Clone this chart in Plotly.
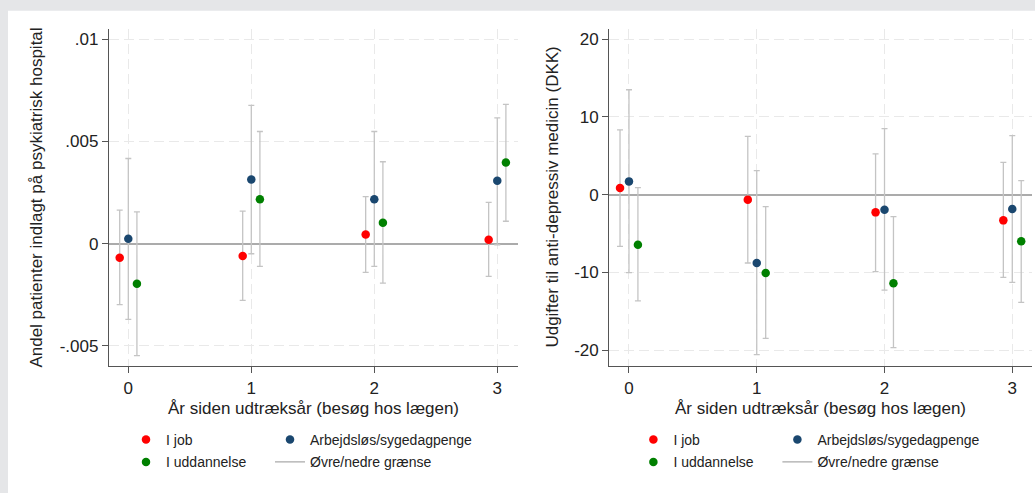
import plotly.graph_objects as go

# --- data -----------------------------------------------------------------
years = [0, 1, 2, 3]

# Andel patienter indlagt på psykiatrisk hospital
hosp_job_est = [-0.00068, -0.00060, 0.00045, 0.00020]
hosp_job_lo = [-0.00298, -0.00277, -0.00140, -0.00160]
hosp_job_hi = [0.00164, 0.00160, 0.00231, 0.00202]
hosp_unemp_est = [0.00024, 0.00314, 0.00218, 0.00308]
hosp_unemp_lo = [-0.00370, -0.00049, -0.00111, -0.00005]
hosp_unemp_hi = [0.00417, 0.00677, 0.00549, 0.00616]
hosp_educ_est = [-0.00196, 0.00218, 0.00103, 0.00397]
hosp_educ_lo = [-0.00547, -0.00111, -0.00193, 0.00110]
hosp_educ_hi = [0.00156, 0.00549, 0.00401, 0.00682]

# Udgifter til anti-depressiv medicin (DKK)
med_job_est = [0.86, -0.64, -2.28, -3.31]
med_job_lo = [-6.65, -8.80, -9.90, -10.64]
med_job_hi = [8.33, 7.50, 5.24, 4.16]
med_unemp_est = [1.71, -8.80, -1.93, -1.84]
med_unemp_lo = [-10.04, -20.60, -12.30, -11.29]
med_unemp_hi = [13.51, 3.09, 8.49, 7.59]
med_educ_est = [-6.44, -10.08, -11.40, -6.01]
med_educ_lo = [-13.68, -18.50, -19.70, -13.86]
med_educ_hi = [0.90, -1.54, -2.83, 1.80]

hosp_ticks = [-0.005, 0, 0.005, 0.01]
hosp_ticktext = ["-.005", "0", ".005", ".01"]
med_ticks = [-20, -10, 0, 10, 20]
med_ticktext = ["-20", "-10", "0", "10", "20"]

group_names = ["I job", "Arbejdsløs/sygedagpenge", "I uddannelse"]
ci_name = "Øvre/nedre grænse"
x_title = "År siden udtræksår (besøg hos lægen)"
y_title_left = "Andel patienter indlagt på psykiatrisk hospital"
y_title_right = "Udgifter til anti-depressiv medicin (DKK)"

# --- styling --------------------------------------------------------------
W, H = 1035, 493
FONT = "Liberation Sans, Arial, sans-serif"
TXT = "#222222"
COLORS = ["#ff0000", "#1a476f", "#008000"]
OFFSETS = [-0.07, 0.0, 0.07]
CI_COLOR = "#c4c4c4"
GRID = "#e9e9e9"
AXIS = "#555555"
COL1_W, COL2_W = 99, 172  # legend entry widths (px) for the two legend columns

fig = go.Figure()

panels = [
    dict(xa="x", ya="y", legends=("legend", "legend2"),
         series=[(hosp_job_est, hosp_job_lo, hosp_job_hi),
                 (hosp_unemp_est, hosp_unemp_lo, hosp_unemp_hi),
                 (hosp_educ_est, hosp_educ_lo, hosp_educ_hi)]),
    dict(xa="x2", ya="y2", legends=("legend3", "legend4"),
         series=[(med_job_est, med_job_lo, med_job_hi),
                 (med_unemp_est, med_unemp_lo, med_unemp_hi),
                 (med_educ_est, med_educ_lo, med_educ_hi)]),
]

# legend layout: row 1 = job | unemployed, row 2 = education | CI key
legend_row = [0, 0, 1]
legend_width = [COL1_W, COL2_W, COL1_W]

for p in panels:
    for i, (est, lo, hi) in enumerate(p["series"]):
        xs = [yr + OFFSETS[i] for yr in years]
        fig.add_trace(go.Scatter(
            x=xs, y=est, mode="markers", name=group_names[i],
            xaxis=p["xa"], yaxis=p["ya"],
            legend=p["legends"][legend_row[i]], legendwidth=legend_width[i],
            marker=dict(color=COLORS[i], size=8.5, line=dict(width=0)),
            error_y=dict(type="data", symmetric=False,
                         array=[h - e for h, e in zip(hi, est)],
                         arrayminus=[e - l for e, l in zip(est, lo)],
                         color=CI_COLOR, thickness=1.3, width=3),
            hoverinfo="skip",
        ))
    # legend key for the confidence interval whiskers
    fig.add_trace(go.Scatter(
        x=[None], y=[None], mode="lines", name=ci_name,
        xaxis=p["xa"], yaxis=p["ya"], legend=p["legends"][1],
        legendwidth=COL2_W,
        line=dict(color="#aaaaaa", width=1.3),
    ))

# --- layout ---------------------------------------------------------------
def px_x(v):
    return v / W


def px_y(v):
    return 1 - v / H


y_dom = [px_y(366), px_y(29.3)]

common_x = dict(
    showline=True, linecolor=AXIS, linewidth=1.3, mirror=False,
    ticks="outside", ticklen=6, tickcolor=AXIS, tickwidth=1,
    tickvals=years, ticktext=[str(v) for v in years],
    showgrid=True, gridcolor=GRID, gridwidth=1, griddash="10px,5px",
    zeroline=False, tickfont=dict(family=FONT, size=17, color=TXT),
    fixedrange=True,
)
common_y = dict(
    showline=True, linecolor=AXIS, linewidth=1.3,
    ticks="outside", ticklen=6, tickcolor=AXIS, tickwidth=1,
    showgrid=True, gridcolor=GRID, gridwidth=1, griddash="10px,5px",
    zeroline=True, zerolinecolor="#ababab", zerolinewidth=1.6,
    tickfont=dict(family=FONT, size=17, color=TXT), fixedrange=True,
)

legend_common = dict(
    orientation="h", xanchor="left", yanchor="middle",
    bgcolor="rgba(0,0,0,0)", borderwidth=0,
    font=dict(family=FONT, size=14, color=TXT),
    itemclick=False, itemdoubleclick=False, tracegroupgap=0,
)

dx = 507.4  # horizontal shift between the two panels
row1_y, row2_y = px_y(440), px_y(462.3)
leg_x = 126

fig.update_layout(
    width=W, height=H,
    margin=dict(l=0, r=0, t=0, b=0, autoexpand=False),
    paper_bgcolor="#e5e6e8",
    plot_bgcolor="rgba(0,0,0,0)",
    font=dict(family=FONT, color=TXT),
    xaxis=dict(common_x, domain=[px_x(109), px_x(517.7)], range=[-0.157, 3.166], anchor="y"),
    yaxis=dict(common_y, domain=y_dom, range=[-0.00598, 0.01049], anchor="x",
               tickvals=hosp_ticks, ticktext=hosp_ticktext),
    xaxis2=dict(common_x, domain=[px_x(609.3), px_x(1031.7)], range=[-0.154, 3.152], anchor="y2"),
    yaxis2=dict(common_y, domain=y_dom, range=[-22.06, 21.29], anchor="x2",
                tickvals=med_ticks, ticktext=med_ticktext),
    legend=dict(legend_common, x=px_x(leg_x), y=row1_y),
    legend2=dict(legend_common, x=px_x(leg_x), y=row2_y),
    legend3=dict(legend_common, x=px_x(leg_x + dx), y=row1_y),
    legend4=dict(legend_common, x=px_x(leg_x + dx), y=row2_y),
    showlegend=True,
    shapes=[dict(type="rect", xref="paper", yref="paper",
                 x0=px_x(8), x1=1, y0=0, y1=px_y(10.7),
                 fillcolor="white", line=dict(width=0), layer="below")],
)

title_font = dict(family=FONT, size=17, color=TXT)
annotations = [
    dict(text=x_title, x=px_x(313.3), y=px_y(408)),
    dict(text=x_title, x=px_x(820.7), y=px_y(408)),
    dict(text=y_title_left, x=px_x(37), y=px_y(197.6), textangle=-90),
    dict(text=y_title_right, x=px_x(553), y=px_y(197.6), textangle=-90),
]
for a in annotations:
    fig.add_annotation(a, xref="paper", yref="paper", showarrow=False,
                       xanchor="center", yanchor="middle", font=title_font)

fig.write_html("out.html")
